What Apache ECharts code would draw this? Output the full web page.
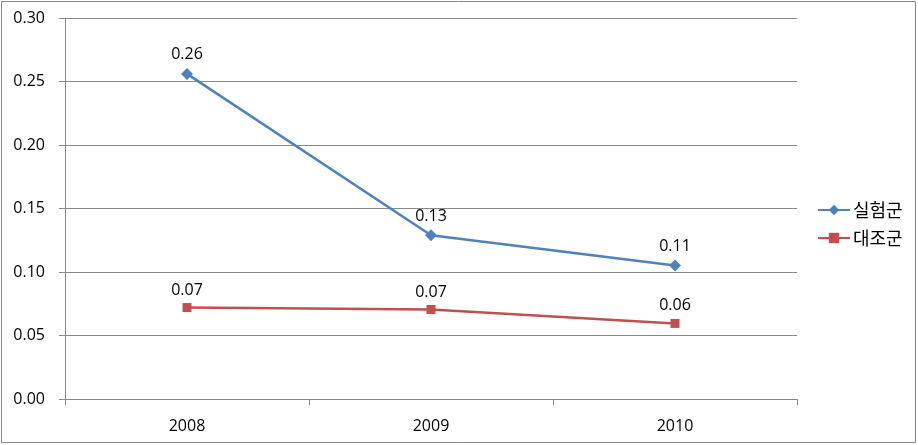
<!DOCTYPE html>
<html><head><meta charset="utf-8">
<script src="https://cdn.jsdelivr.net/npm/echarts@6/dist/echarts.min.js"></script>
<style>html,body{margin:0;padding:0;background:#fff}#c{width:918px;height:445px}</style>
</head><body><div id="c"></div>
<script>
const categories = ['2008', '2009', '2010'];
const expName = '실험군';
const ctrlName = '대조군';
const expValues = [0.256, 0.129, 0.1052];
const ctrlValues = [0.072, 0.0705, 0.0595];
const yTicks = [0, 0.05, 0.1, 0.15, 0.2, 0.25, 0.3];

const font = '"Open Sans", "Liberation Sans", sans-serif';
const chart = echarts.init(document.getElementById('c'));
chart.setOption({
  animation: false,
  backgroundColor: '#fff',
  graphic: [{type: 'rect', shape: {x: 1.5, y: 1.5, width: 914, height: 441}, style: {fill: 'none', stroke: '#888', lineWidth: 1}}],
  grid: {left: 65, right: 121, top: 18, bottom: 46},
  legend: {
    orient: 'vertical', left: 812, top: 196, itemGap: 10, itemWidth: 32, itemHeight: 13,
    textStyle: {fontFamily: '"Noto Sans CJK KR", sans-serif', fontSize: 18, color: '#000', padding: [0, 0, 0, -2]},
    data: [expName, ctrlName]
  },
  xAxis: {
    type: 'category', data: categories, boundaryGap: true,
    axisLine: {lineStyle: {color: '#888'}},
    axisTick: {show: true, length: 6, lineStyle: {color: '#888'}},
    axisLabel: {color: '#000', fontSize: 16, fontFamily: font, margin: 19}
  },
  yAxis: {
    type: 'value', min: yTicks[0], max: yTicks[yTicks.length - 1], interval: 0.05,
    axisLine: {show: true, lineStyle: {color: '#888'}},
    axisTick: {show: true, length: 6, lineStyle: {color: '#888'}},
    splitLine: {lineStyle: {color: '#888'}},
    axisLabel: {color: '#000', fontSize: 16, fontFamily: font, margin: 20, formatter: v => v.toFixed(2)}
  },
  series: [
    {
      name: expName, type: 'line', data: expValues, symbol: 'diamond', symbolSize: 12,
      itemStyle: {color: '#4F81BD'}, lineStyle: {color: '#4F81BD', width: 2.5},
      label: {show: true, position: 'top', distance: 5, color: '#000', fontSize: 16, fontFamily: font, formatter: p => p.value.toFixed(2)}
    },
    {
      name: ctrlName, type: 'line', data: ctrlValues, symbol: 'rect', symbolSize: 9,
      itemStyle: {color: '#C0504D'}, lineStyle: {color: '#C0504D', width: 2.5},
      label: {show: true, position: 'top', distance: 5, color: '#000', fontSize: 16, fontFamily: font, formatter: p => p.value.toFixed(2)}
    }
  ]
});
</script></body></html>
